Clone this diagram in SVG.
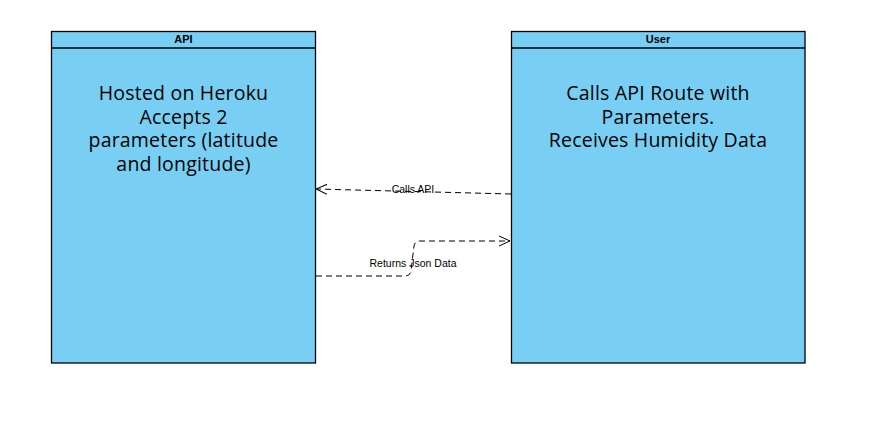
<svg xmlns="http://www.w3.org/2000/svg" width="872" height="435" viewBox="0 0 872 435">
<style>
.box{fill:#79CFF3;stroke:#000;stroke-width:1.3}
.hdr{font-family:"Liberation Sans",Arial,sans-serif;font-size:11px;font-weight:bold;fill:#000;text-anchor:middle}
.body{font-family:"Open Sans","Noto Sans",sans-serif;font-size:19.5px;letter-spacing:0.2px;fill:#000;text-anchor:middle}
.edge{fill:none;stroke:#000;stroke-width:1;stroke-dasharray:6 4}
.lbl{font-family:"Liberation Sans",Arial,sans-serif;font-size:10.5px;fill:#000;text-anchor:middle}
</style>
<defs>
<marker id="open" viewBox="0 0 12 12" refX="11" refY="6" markerWidth="12" markerHeight="12" markerUnits="userSpaceOnUse" orient="auto">
<path d="M0,1 L11,6 L0,11" fill="none" stroke="#000" stroke-width="1"/>
</marker>
</defs>
<rect width="872" height="435" fill="#fff"/>
<g id="api">
<rect class="box" x="51.5" y="31.5" width="264" height="331.5"/>
<line x1="51.5" y1="48" x2="315.5" y2="48" stroke="#000" stroke-width="1.3"/>
<text class="hdr" x="183.5" y="43">API</text>
<text class="body" x="183.5" y="100"><tspan x="183.5" y="100">Hosted on Heroku</tspan><tspan x="183.5" y="124">Accepts 2</tspan><tspan x="183.5" y="147">parameters (latitude</tspan><tspan x="183.5" y="171">and longitude)</tspan></text>
</g>
<g id="user">
<rect class="box" x="511.5" y="31.5" width="293.5" height="331.5"/>
<line x1="511.5" y1="48" x2="805" y2="48" stroke="#000" stroke-width="1.3"/>
<text class="hdr" x="658" y="43">User</text>
<text class="body" x="658" y="100"><tspan x="658" y="100">Calls API Route with</tspan><tspan x="658" y="124">Parameters.</tspan><tspan x="658" y="147">Receives Humidity Data</tspan></text>
</g>
<g id="connectors">
<path class="edge" d="M511,194 L316,189" marker-end="url(#open)"/>
<text class="lbl" x="413" y="193">Calls API</text>
<path class="edge" d="M316,276 L405,276 Q410,276 411,271 L414,246 Q415,241 420,241 L510,241" marker-end="url(#open)"/>
<text class="lbl" x="413" y="267">Returns Json Data</text>
</g>
</svg>
